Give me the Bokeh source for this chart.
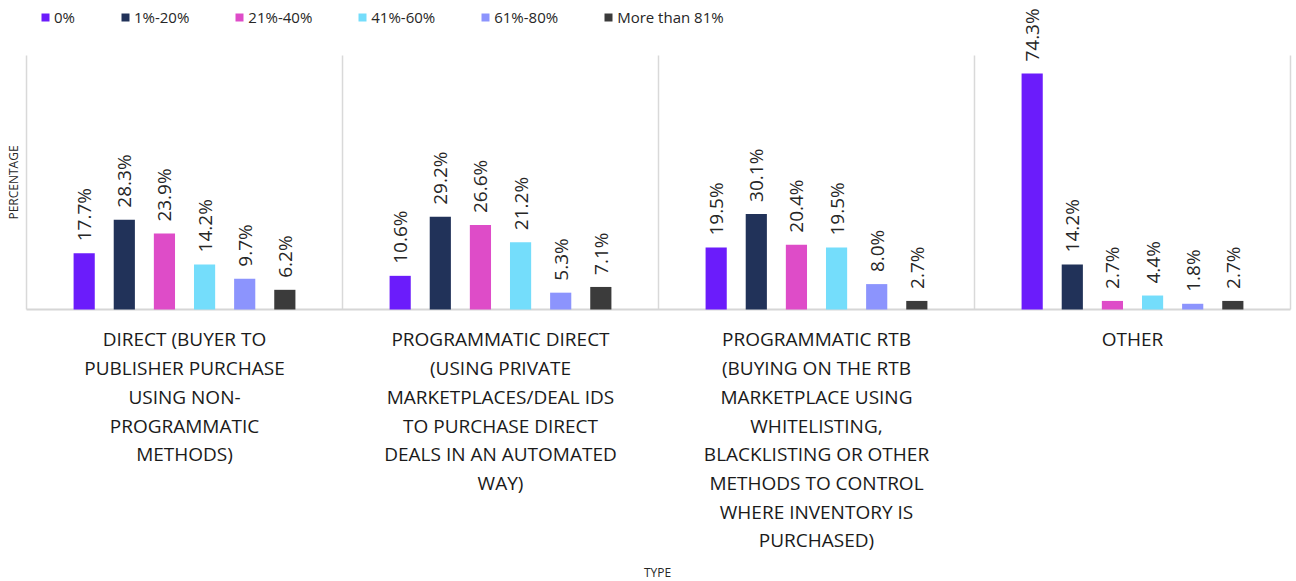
import numpy as np
from bokeh.plotting import figure
from bokeh.models import ColumnDataSource, LabelSet, Label, Range1d, Legend
from bokeh.core.properties import value
from bokeh.embed import file_html
from bokeh.resources import INLINE

categories = [
    "DIRECT (BUYER TO\nPUBLISHER PURCHASE\nUSING NON-\nPROGRAMMATIC\nMETHODS)",
    "PROGRAMMATIC DIRECT\n(USING PRIVATE\nMARKETPLACES/DEAL IDS\nTO PURCHASE DIRECT\nDEALS IN AN AUTOMATED\nWAY)",
    "PROGRAMMATIC RTB\n(BUYING ON THE RTB\nMARKETPLACE USING\nWHITELISTING,\nBLACKLISTING OR OTHER\nMETHODS TO CONTROL\nWHERE INVENTORY IS\nPURCHASED)",
    "OTHER",
]
series = ["0%", "1%-20%", "21%-40%", "41%-60%", "61%-80%", "More than 81%"]
values = {
    "0%":            [17.7, 10.6, 19.5, 74.3],
    "1%-20%":        [28.3, 29.2, 30.1, 14.2],
    "21%-40%":       [23.9, 26.6, 20.4, 2.7],
    "41%-60%":       [14.2, 21.2, 19.5, 4.4],
    "61%-80%":       [9.7, 5.3, 8.0, 1.8],
    "More than 81%": [6.2, 7.1, 2.7, 2.7],
}
colors = ["#6b1cfb", "#213259", "#de4cc8", "#74ddfb", "#8c94fd", "#3b3b3b"]
x_title = "TYPE"
y_title = "PERCENTAGE"

FONT = value("Open Sans")
Y_TOP = 80
W, H = 1296, 581

p = figure(width=W, height=H, output_backend="svg", toolbar_location=None,
           x_range=Range1d(-0.0823, 4.019), y_range=Range1d(-85.67, 97.32),
           x_axis_location=None, y_axis_location=None,
           min_border=0)
p.outline_line_color = None
p.background_fill_color = "white"
p.xgrid.grid_line_color = None
p.ygrid.grid_line_color = None

ng = len(categories)
# group separators (from baseline to top of value range)
sep = ColumnDataSource(dict(x=list(range(ng + 1)), y0=[0] * (ng + 1), y1=[Y_TOP] * (ng + 1)))
p.segment(x0="x", x1="x", y0="y0", y1="y1", source=sep, line_color="#d9d9d9", line_width=1.5)
p.segment(x0=[0], x1=[ng], y0=[0], y1=[0], line_color="#d6d6d6", line_width=2)

n = len(series)
step = 0.127
bar_w = 0.067
items = []
for i, s in enumerate(series):
    off = (i - (n - 1) / 2) * step
    xs = [g + 0.5 + off for g in range(ng)]
    src = ColumnDataSource(dict(x=xs, y=values[s], label=[f"{v:.1f}%" for v in values[s]]))
    r = p.vbar(x="x", top="y", width=bar_w, source=src, fill_color=colors[i], line_color=None)
    items.append((s, [r]))
    p.add_layout(LabelSet(x="x", y="y", text="label", source=src, angle=np.pi / 2,
                          text_align="left", text_baseline="middle", y_offset=12,
                          text_font=FONT, text_font_size="19px", text_color="#262626"))

# category labels below the baseline: one row per line, each centred
cx, cy, ct, coff = [], [], [], []
for g, c in enumerate(categories):
    for k, line in enumerate(c.split("\n")):
        cx.append(g + 0.5)
        cy.append(0)
        ct.append(line)
        coff.append(-(30 + k * 28.7))
cat_src = ColumnDataSource(dict(x=cx, y=cy, text=ct, yoff=coff))
p.add_layout(LabelSet(x="x", y="y", text="text", source=cat_src, text_align="center",
                      text_baseline="middle", y_offset="yoff", text_font=FONT,
                      text_font_size="19px", text_color="#1a1a1a"))

legend = Legend(items=items, orientation="horizontal", location=(40, 554),
                label_text_font="Open Sans", label_text_font_size="15px",
                label_text_color="#262626",
                glyph_width=10, glyph_height=10, label_standoff=4, spacing=45,
                padding=0, margin=0, border_line_color=None, background_fill_alpha=0)
p.add_layout(legend)

p.add_layout(Label(x=657, y=9, x_units="screen", y_units="screen", text=x_title,
                   text_align="center", text_baseline="middle", text_font="Open Sans",
                   text_font_size="12px", text_color="#262626"))
p.add_layout(Label(x=13, y=H - 182, x_units="screen", y_units="screen", text=y_title,
                   angle=np.pi / 2, text_align="center", text_baseline="middle",
                   text_font="Open Sans", text_font_size="12px", text_color="#262626"))

open("out.html", "w").write(file_html(p, INLINE))
